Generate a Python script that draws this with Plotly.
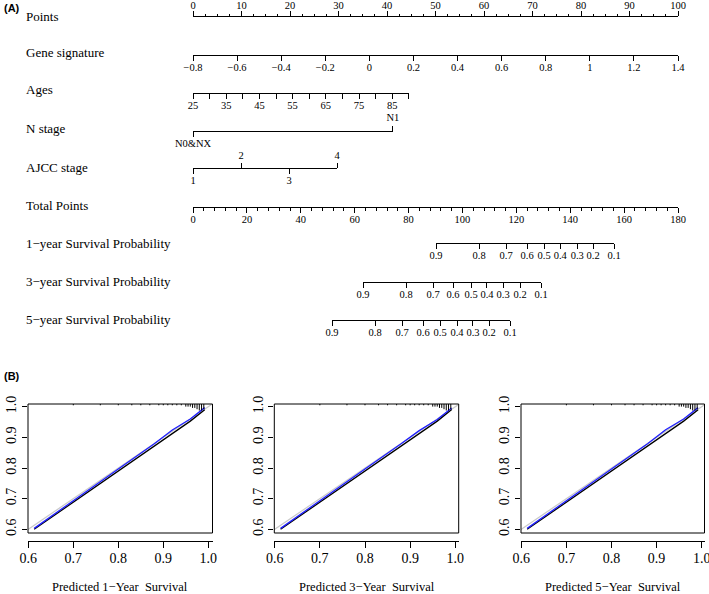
import plotly.graph_objects as go

W, H = 709, 594
SERIF = "Liberation Serif"
SANS = "Liberation Sans"

# ---------------- Nomogram data ----------------
points_ticks = [0, 10, 20, 30, 40, 50, 60, 70, 80, 90, 100]
gene_ticks = [-0.8, -0.6, -0.4, -0.2, 0, 0.2, 0.4, 0.6, 0.8, 1, 1.2, 1.4]
gene_labels = ["\u22120.8", "\u22120.6", "\u22120.4", "\u22120.2", "0", "0.2", "0.4",
               "0.6", "0.8", "1", "1.2", "1.4"]
gene_points = [0, 100]                      # points at -0.8 and 1.4
age_ticks = [25, 30, 35, 40, 45, 50, 55, 60, 65, 70, 75, 80, 85, 90]
age_labels = ["25", "", "35", "", "45", "", "55", "", "65", "", "75", "", "85", ""]
age_points = [0, 44.5]                      # points at age 25 and 90
n_levels = ["N0&NX", "N1"]
n_points = [0, 41.2]
ajcc_levels = ["1", "2", "3", "4"]
ajcc_points = [0, 9.9, 19.8, 29.7]
total_ticks = [0, 20, 40, 60, 80, 100, 120, 140, 160, 180]
surv_labels = ["0.9", "0.8", "0.7", "0.6", "0.5", "0.4", "0.3", "0.2", "0.1"]
surv_1y_total = [90.2, 106.2, 116.2, 124.0, 130.3, 136.3, 142.6, 148.5, 156.3]
surv_3y_total = [63.1, 79.1, 89.1, 96.5, 103.2, 109.1, 115.1, 121.4, 129.2]
surv_5y_total = [51.6, 67.6, 77.6, 85.4, 91.7, 98.0, 103.9, 109.9, 117.7]

row_names = ["Points", "Gene signature", "Ages", "N stage", "AJCC stage", "Total Points",
             "1\u2212year Survival Probability", "3\u2212year Survival Probability",
             "5\u2212year Survival Probability"]

# ---------------- Calibration data ----------------
cal_years = ["1", "3", "5"]
cal_pred = [0.613, 0.70, 0.80, 0.88, 0.92, 0.96, 0.992]
cal_apparent = {
    "1": [0.600, 0.689, 0.791, 0.872, 0.912, 0.953, 0.990],
    "3": [0.600, 0.689, 0.791, 0.872, 0.912, 0.953, 0.991],
    "5": [0.600, 0.689, 0.791, 0.872, 0.912, 0.953, 0.990],
}
cal_corrected = {
    "1": [0.603, 0.694, 0.797, 0.879, 0.924, 0.960, 0.997],
    "3": [0.603, 0.694, 0.797, 0.879, 0.922, 0.958, 0.996],
    "5": [0.603, 0.694, 0.797, 0.879, 0.925, 0.960, 0.997],
}
ideal_line = [0.5, 1.1]
spike_x = [0.70, 0.76, 0.80, 0.83, 0.85, 0.87, 0.89, 0.90, 0.91, 0.92, 0.93, 0.94,
           0.95, 0.955, 0.96, 0.965, 0.97, 0.975, 0.98, 0.985, 0.99]
spike_count = [1, 1, 1, 1, 1, 1, 1, 1, 1, 1, 1, 1, 2, 2, 2, 3, 3, 4, 5, 5, 4]

# ---------------- Geometry ----------------
X0, X1 = 193, 678      # pixel span of the Points scale


def pts_frac(p):
    return (X0 + p / 100 * (X1 - X0)) / W


def tot_frac(t):
    return (X0 + t / 180 * (X1 - X0)) / W


def yfrac(px):
    return 1 - px / H


fig = go.Figure()
layout = dict(
    width=W, height=H, margin=dict(l=0, r=0, t=0, b=0, pad=0, autoexpand=False),
    paper_bgcolor="white", plot_bgcolor="rgba(0,0,0,0)", showlegend=False,
    yaxis=dict(domain=[0, 1], range=[0, 1], visible=False, fixedrange=True,
               automargin=False),
)

tickfont = dict(family=SERIF, size=10.5, color="black")
axis_count = [0]


def add_axis(y_px, rng, dom, side="bottom", tickvals=None, ticktext=None,
             minor=None, ticklen=5, standoff=None):
    axis_count[0] += 1
    k = axis_count[0]
    name = "xaxis" if k == 1 else f"xaxis{k}"
    ref = "x" if k == 1 else f"x{k}"
    if standoff is None:
        standoff = -3 if side == "bottom" else 0
    d = dict(anchor="free", position=yfrac(y_px), domain=dom, range=rng, side=side,
             showline=True, linecolor="black", linewidth=1, ticks="outside",
             ticklen=ticklen, tickwidth=1, tickcolor="black", showgrid=False,
             zeroline=False, tickfont=tickfont, fixedrange=True, automargin=False,
             tickangle=0, tickmode="array", tickvals=tickvals, ticktext=ticktext,
             ticklabelstandoff=standoff, ticklabeloverflow="allow")
    if minor is not None:
        d["minor"] = dict(ticks="outside", dtick=minor, tick0=rng[0], ticklen=2.5,
                          tickwidth=1, tickcolor="black", showgrid=False)
    layout[name] = d
    fig.add_trace(go.Scatter(x=[rng[0]], y=[-5], xaxis=ref, yaxis="y", mode="markers",
                             marker=dict(opacity=0), hoverinfo="skip", showlegend=False))


full = [pts_frac(0), pts_frac(100)]
# Points
add_axis(16, [0, 100], full, side="top", tickvals=points_ticks,
         ticktext=[str(v) for v in points_ticks], minor=2.5, standoff=-2)
# Gene signature
add_axis(55, [gene_ticks[0], gene_ticks[-1]], [pts_frac(gene_points[0]), pts_frac(gene_points[1])],
         tickvals=gene_ticks, ticktext=gene_labels)
# Ages
add_axis(93, [age_ticks[0], age_ticks[-1]], [pts_frac(age_points[0]), pts_frac(age_points[1])],
         tickvals=age_ticks, ticktext=age_labels)
# N stage (bottom label + top label)
n_dom = [pts_frac(n_points[0]), pts_frac(n_points[1])]
add_axis(131, [n_points[0], n_points[1]], n_dom, tickvals=[n_points[0]], ticktext=[n_levels[0]])
add_axis(131, [n_points[0], n_points[1]], n_dom, side="top", tickvals=[n_points[1]],
         ticktext=[n_levels[1]], standoff=1)
# AJCC stage
a_dom = [pts_frac(ajcc_points[0]), pts_frac(ajcc_points[-1])]
a_rng = [ajcc_points[0], ajcc_points[-1]]
add_axis(168, a_rng, a_dom, tickvals=ajcc_points[0::2], ticktext=ajcc_levels[0::2])
add_axis(168, a_rng, a_dom, side="top", tickvals=ajcc_points[1::2], ticktext=ajcc_levels[1::2])
# Total points
add_axis(207, [total_ticks[0], total_ticks[-1]], [tot_frac(0), tot_frac(180)],
         tickvals=total_ticks, ticktext=[str(v) for v in total_ticks], minor=4)
# Survival probabilities
for y_px, tp in [(243, surv_1y_total), (282, surv_3y_total), (320, surv_5y_total)]:
    add_axis(y_px, [tp[0], tp[-1]], [tot_frac(tp[0]), tot_frac(tp[-1])],
             tickvals=tp, ticktext=surv_labels)

annotations = []
row_label_y = [16.5, 52, 89, 129, 167, 206, 243, 281, 319]
for name, ypx in zip(row_names, row_label_y):
    annotations.append(dict(text=name, x=24 / W, y=yfrac(ypx), xref="paper", yref="paper",
                            xanchor="left", yanchor="middle", showarrow=False,
                            font=dict(family=SERIF, size=13, color="black")))
for lab, ypx in [("(A)", 8), ("(B)", 375.5)]:
    annotations.append(dict(text="<b>" + lab + "</b>", x=2 / W, y=yfrac(ypx), xref="paper",
                            yref="paper", xanchor="left", yanchor="middle", showarrow=False,
                            font=dict(family=SANS, size=11, color="black")))

# ---------------- Calibration panels ----------------
panel_box = [(28, 212.5), (274.3, 458.7), (521, 704.5)]
zero_px = [28.3, 274.7, 521.3]
one_px = [208.3, 455.3, 701.7]
box_top, box_bot = 404, 533
y_one, y_six = 406.7, 529.3
shapes = []
for i, yr in enumerate(cal_years):
    k = 12 + i
    xr, yr_ = f"x{k}", f"y{k}"
    left, right = panel_box[i]
    ppu = (one_px[i] - zero_px[i]) / 0.4
    xrng = [0.6 + (left - zero_px[i]) / ppu, 1.0 + (right - one_px[i]) / ppu]
    ypu = (y_six - y_one) / 0.4
    yrng = [0.6 - (box_bot - y_six) / ypu, 1.0 + (y_one - box_top) / ypu]
    layout[f"xaxis{k}"] = dict(domain=[left / W, right / W], range=xrng, anchor="free",
                               position=yfrac(541), showline=True, linecolor="black",
                               linewidth=1, ticks="outside", ticklen=6, tickwidth=1,
                               tickcolor="black", tickmode="array",
                               tickvals=[0.6, 0.7, 0.8, 0.9, 1.0], tickformat=".1f",
                               showgrid=False, zeroline=False, fixedrange=True,
                               automargin=False, tickangle=0, ticklabelstandoff=-2,
                               ticklabeloverflow="allow",
                               tickfont=dict(family=SERIF, size=14, color="black"))
    layout[f"yaxis{k}"] = dict(domain=[yfrac(box_bot), yfrac(box_top)], range=yrng,
                               anchor=xr, showline=False, ticks="outside", ticklen=5,
                               tickwidth=1, tickcolor="black", tickmode="array",
                               tickvals=[0.6, 0.7, 0.8, 0.9, 1.0], tickformat=".1f",
                               tickangle=-90, showgrid=False, zeroline=False,
                               fixedrange=True, automargin=False,
                               ticklabeloverflow="allow",
                               tickfont=dict(family=SERIF, size=14, color="black"))
    # ideal line
    fig.add_trace(go.Scatter(x=ideal_line, y=ideal_line, xaxis=xr, yaxis=yr_, mode="lines",
                             line=dict(color="#c8c8c8", width=1.2), hoverinfo="skip"))
    # apparent
    fig.add_trace(go.Scatter(x=cal_pred, y=cal_apparent[yr], xaxis=xr, yaxis=yr_, mode="lines",
                             line=dict(color="black", width=1.3), hoverinfo="skip"))
    # bias-corrected
    fig.add_trace(go.Scatter(x=cal_pred, y=cal_corrected[yr], xaxis=xr, yaxis=yr_, mode="lines",
                             line=dict(color="#2020ff", width=1.3), hoverinfo="skip"))
    # spike histogram at top
    sx, sy = [], []
    for xv, c in zip(spike_x, spike_count):
        sx += [xv, xv, None]
        sy += [yrng[1], yrng[1] - c * 1.3 / ypu, None]
    fig.add_trace(go.Scatter(x=sx, y=sy, xaxis=xr, yaxis=yr_, mode="lines",
                             line=dict(color="black", width=1), hoverinfo="skip"))
    shapes.append(dict(type="rect", xref=f"{xr} domain", yref=f"{yr_} domain",
                       x0=0, x1=1, y0=0, y1=1, line=dict(color="black", width=1)))
    annotations.append(dict(text=f"Predicted {yr}\u2212Year\u00a0 Survival",
                            x=0.5, y=yfrac(587), xref=f"{xr} domain", yref="paper",
                            xanchor="center", yanchor="middle", showarrow=False,
                            font=dict(family=SERIF, size=12.5, color="black")))

layout["annotations"] = annotations
layout["shapes"] = shapes
fig.update_layout(**layout)
fig.write_html("out.html", config={"displayModeBar": False},
               post_script="document.body.style.margin='0';")
